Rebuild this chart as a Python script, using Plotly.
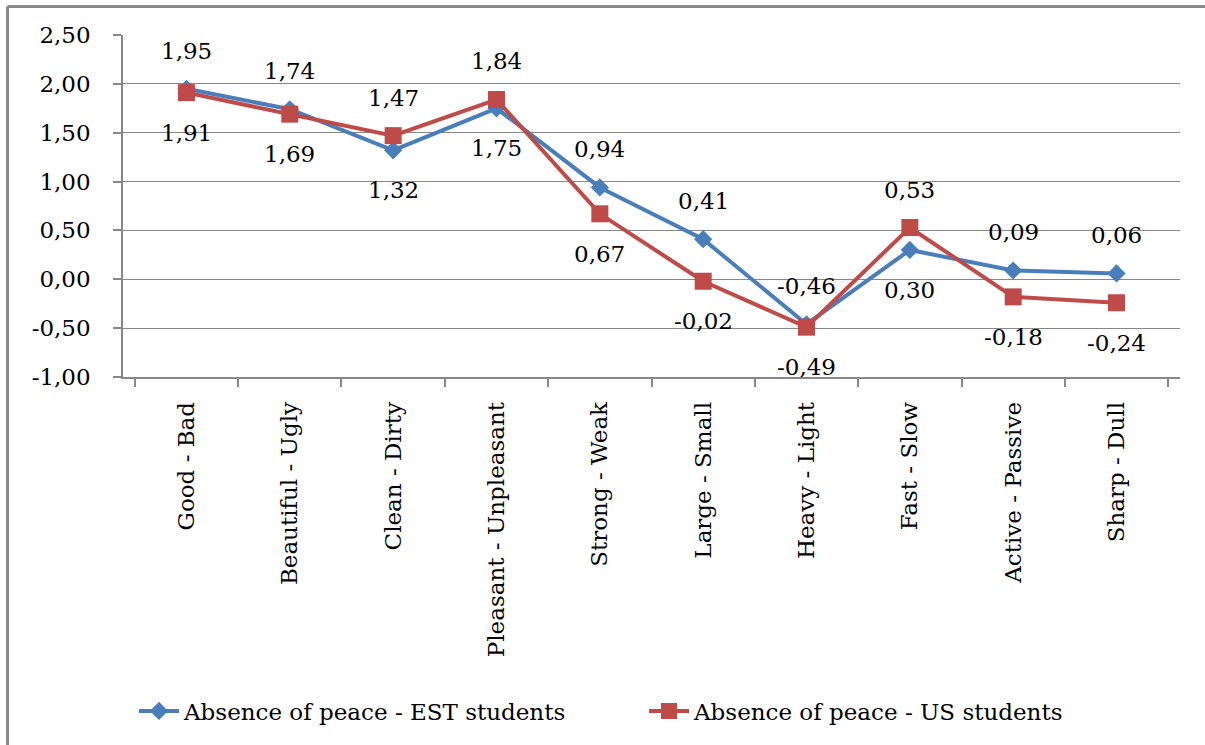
import plotly.graph_objects as go

# Semantic differential pairs
categories = ["Good - Bad", "Beautiful - Ugly", "Clean - Dirty", "Pleasant - Unpleasant",
              "Strong - Weak", "Large - Small", "Heavy - Light", "Fast - Slow",
              "Active - Passive", "Sharp - Dull"]

# Mean scores per group
est_students = [1.95, 1.74, 1.32, 1.75, 0.94, 0.41, -0.46, 0.30, 0.09, 0.06]
us_students = [1.91, 1.69, 1.47, 1.84, 0.67, -0.02, -0.49, 0.53, -0.18, -0.24]

series_names = ["Absence of peace - EST students", "Absence of peace - US students"]

y_tickvals = [-1.0, -0.5, 0.0, 0.5, 1.0, 1.5, 2.0, 2.5]
y_ticktext = ["-1,00", "-0,50", "0,00", "0,50", "1,00", "1,50", "2,00", "2,50"]

FONT = "DejaVu Serif"
FS = 23
BLUE = "#4A7EBB"
RED = "#BE4B48"
GRID = "#878787"

W, H = 1205, 745
L, R, T, B = 123, 25, 35, 368
pw, ph = W - L - R, H - T - B


def px_to_paper_x(px):
    return (px - L) / pw


def px_to_paper_y(py):
    return (H - B - py) / ph


fig = go.Figure()
fig.add_trace(go.Scatter(
    x=categories, y=est_students, name=series_names[0], mode="lines+markers",
    line=dict(color=BLUE, width=4),
    marker=dict(symbol="diamond", size=14, color=BLUE),
))
fig.add_trace(go.Scatter(
    x=categories, y=us_students, name=series_names[1], mode="lines+markers",
    line=dict(color=RED, width=4),
    marker=dict(symbol="square", size=17, color=RED),
))


def fmt(v):
    return f"{v:.2f}".replace(".", ",")


# Value labels: the higher value of each pair sits above, the lower below
annotations = []
for cat, a, b in zip(categories, est_students, us_students):
    hi, lo = (a, b) if a >= b else (b, a)
    annotations.append(dict(x=cat, y=hi, text=fmt(hi), showarrow=False, yshift=38,
                            font=dict(family=FONT, size=FS, color="black")))
    annotations.append(dict(x=cat, y=lo, text=fmt(lo), showarrow=False, yshift=-40,
                            font=dict(family=FONT, size=FS, color="black")))

# Chart frame: left and top edges
fx = px_to_paper_x(7.5)
fy_top = px_to_paper_y(6.5)
fy_bot = px_to_paper_y(770)
fx_end = px_to_paper_x(1230)
shapes = [
    dict(type="line", xref="paper", yref="paper",
         x0=fx, x1=fx, y0=fy_top, y1=fy_bot,
         line=dict(color="#8A8A8A", width=3)),
    dict(type="line", xref="paper", yref="paper",
         x0=fx, x1=fx_end, y0=fy_top, y1=fy_top,
         line=dict(color="#8A8A8A", width=3)),
]

fig.update_layout(
    width=W, height=H,
    margin=dict(l=L, r=R, t=T, b=B, autoexpand=False),
    paper_bgcolor="white", plot_bgcolor="white",
    font=dict(family=FONT, size=FS, color="black"),
    showlegend=True,
    legend=dict(orientation="h", x=px_to_paper_x(134), xanchor="left",
                y=px_to_paper_y(711), yanchor="middle",
                font=dict(family=FONT, size=FS, color="black"),
                itemwidth=40, entrywidth=455, tracegroupgap=0),
    annotations=annotations,
    shapes=shapes,
)

fig.update_xaxes(
    type="category", showgrid=False, showline=True, linecolor=GRID, linewidth=1.5,
    ticks="outside", ticklen=8, tickcolor=GRID, tickwidth=1.5, tickson="boundaries",
    tickangle=-90, tickfont=dict(family=FONT, size=FS, color="black"),
    ticklabelstandoff=14,
)
fig.update_yaxes(
    range=[-1.0, 2.5], tickvals=y_tickvals, ticktext=y_ticktext,
    showgrid=True, gridcolor=GRID, gridwidth=1.3, zeroline=False,
    showline=True, linecolor=GRID, linewidth=1.5,
    ticks="outside", ticklen=8, tickcolor=GRID, tickwidth=1.5,
    tickfont=dict(family=FONT, size=FS, color="black"),
    ticklabelstandoff=18,
)

fig.write_html("out.html")
